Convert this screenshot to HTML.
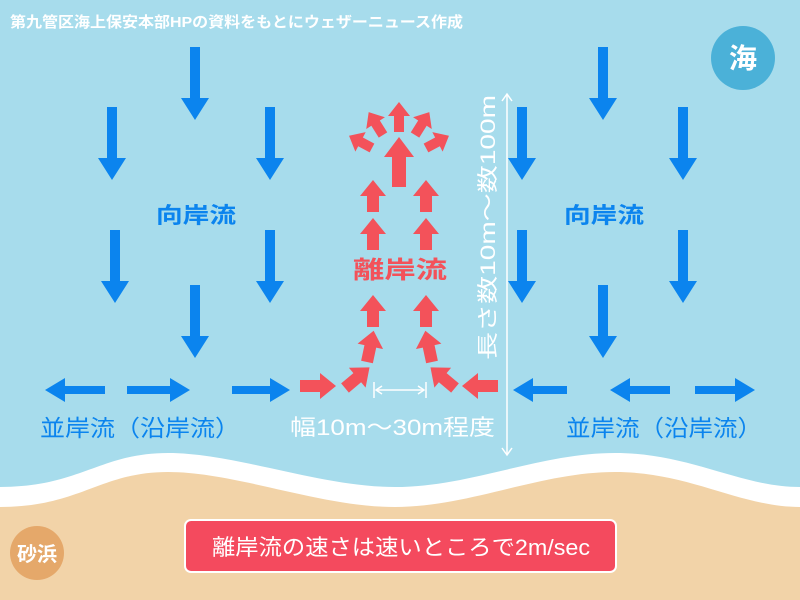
<!DOCTYPE html>
<html><head><meta charset="utf-8"><style>
html,body{margin:0;padding:0;width:800px;height:600px;overflow:hidden;background:#a7dcec}
svg{display:block}
text{font-family:"Liberation Sans","Noto Sans CJK JP",sans-serif}
</style></head><body>
<svg width="800" height="600" viewBox="0 0 800 600" xmlns="http://www.w3.org/2000/svg">
<rect width="800" height="600" fill="#a7dcec"/>
<path d="M0,487 C80,487 100,453 168,453 S320,487 395,487 S540,453 615,453 S740,487 800,487 V600 H0Z" fill="#fff"/>
<path d="M0,507 C80,507 100,472 168,472 S320,507 395,507 S540,472 615,472 S740,507 800,507 V600 H0Z" fill="#f2d3a8"/>

<text x="10" y="27" font-size="15" font-weight="bold" fill="#fff" textLength="453" lengthAdjust="spacingAndGlyphs">第九管区海上保安本部HPの資料をもとにウェザーニュース作成</text>
<circle cx="743" cy="58" r="32" fill="#4bb1d8"/>
<text x="743" y="68" font-size="28" font-weight="bold" fill="#fff" text-anchor="middle">海</text>

<g fill="#0b84ee">
<g transform="translate(195,47) rotate(180)"><polygon points="-5,0 5,0 5,-51 14,-51 0,-73 -14,-51 -5,-51"/></g>
<g transform="translate(112,107) rotate(180)"><polygon points="-5,0 5,0 5,-51 14,-51 0,-73 -14,-51 -5,-51"/></g>
<g transform="translate(270,107) rotate(180)"><polygon points="-5,0 5,0 5,-51 14,-51 0,-73 -14,-51 -5,-51"/></g>
<g transform="translate(115,230) rotate(180)"><polygon points="-5,0 5,0 5,-51 14,-51 0,-73 -14,-51 -5,-51"/></g>
<g transform="translate(270,230) rotate(180)"><polygon points="-5,0 5,0 5,-51 14,-51 0,-73 -14,-51 -5,-51"/></g>
<g transform="translate(195,285) rotate(180)"><polygon points="-5,0 5,0 5,-51 14,-51 0,-73 -14,-51 -5,-51"/></g>
<g transform="translate(603,47) rotate(180)"><polygon points="-5,0 5,0 5,-51 14,-51 0,-73 -14,-51 -5,-51"/></g>
<g transform="translate(522,107) rotate(180)"><polygon points="-5,0 5,0 5,-51 14,-51 0,-73 -14,-51 -5,-51"/></g>
<g transform="translate(683,107) rotate(180)"><polygon points="-5,0 5,0 5,-51 14,-51 0,-73 -14,-51 -5,-51"/></g>
<g transform="translate(522,230) rotate(180)"><polygon points="-5,0 5,0 5,-51 14,-51 0,-73 -14,-51 -5,-51"/></g>
<g transform="translate(683,230) rotate(180)"><polygon points="-5,0 5,0 5,-51 14,-51 0,-73 -14,-51 -5,-51"/></g>
<g transform="translate(603,285) rotate(180)"><polygon points="-5,0 5,0 5,-51 14,-51 0,-73 -14,-51 -5,-51"/></g>
<g transform="translate(105,390) rotate(-90)"><polygon points="-4,0 4,0 4,-40 12,-40 0,-60 -12,-40 -4,-40"/></g>
<g transform="translate(127,390) rotate(90)"><polygon points="-4,0 4,0 4,-43 12,-43 0,-63 -12,-43 -4,-43"/></g>
<g transform="translate(232,390) rotate(90)"><polygon points="-4,0 4,0 4,-38 12,-38 0,-58 -12,-38 -4,-38"/></g>
<g transform="translate(567,390) rotate(-90)"><polygon points="-4,0 4,0 4,-34 12,-34 0,-54 -12,-34 -4,-34"/></g>
<g transform="translate(670,390) rotate(-90)"><polygon points="-4,0 4,0 4,-40 12,-40 0,-60 -12,-40 -4,-40"/></g>
<g transform="translate(695,390) rotate(90)"><polygon points="-4,0 4,0 4,-40 12,-40 0,-60 -12,-40 -4,-40"/></g>
</g>

<g fill="#f3525a">
<g transform="translate(373,212)"><polygon points="-6,0 6,0 6,-16 13,-16 0,-32 -13,-16 -6,-16"/></g>
<g transform="translate(426,212)"><polygon points="-6,0 6,0 6,-16 13,-16 0,-32 -13,-16 -6,-16"/></g>
<g transform="translate(373,250)"><polygon points="-6,0 6,0 6,-16 13,-16 0,-32 -13,-16 -6,-16"/></g>
<g transform="translate(426,250)"><polygon points="-6,0 6,0 6,-16 13,-16 0,-32 -13,-16 -6,-16"/></g>
<g transform="translate(373,327)"><polygon points="-6,0 6,0 6,-16 13,-16 0,-32 -13,-16 -6,-16"/></g>
<g transform="translate(426,327)"><polygon points="-6,0 6,0 6,-16 13,-16 0,-32 -13,-16 -6,-16"/></g>
<g transform="translate(367,362) rotate(12)"><polygon points="-6,0 6,0 6,-16 13,-16 0,-32 -13,-16 -6,-16"/></g>
<g transform="translate(432,362) rotate(-12)"><polygon points="-6,0 6,0 6,-16 13,-16 0,-32 -13,-16 -6,-16"/></g>
<g transform="translate(345,388) rotate(50)"><polygon points="-6,0 6,0 6,-16 13,-16 0,-32 -13,-16 -6,-16"/></g>
<g transform="translate(455,388) rotate(-50)"><polygon points="-6,0 6,0 6,-16 13,-16 0,-32 -13,-16 -6,-16"/></g>
<g transform="translate(300,386) rotate(90)"><polygon points="-6,0 6,0 6,-20 13,-20 0,-36 -13,-20 -6,-20"/></g>
<g transform="translate(498,386) rotate(-90)"><polygon points="-6,0 6,0 6,-20 13,-20 0,-36 -13,-20 -6,-20"/></g>
<g transform="translate(399,187)"><polygon points="-7,0 7,0 7,-30 15,-30 0,-50 -15,-30 -7,-30"/></g>
<g transform="translate(399,132)"><polygon points="-5,0 5,0 5,-16 11,-16 0,-30 -11,-16 -5,-16"/></g>
<g transform="translate(383,135) rotate(-32)"><polygon points="-5,0 5,0 5,-14 11,-14 0,-27 -11,-14 -5,-14"/></g>
<g transform="translate(415,135) rotate(32)"><polygon points="-5,0 5,0 5,-14 11,-14 0,-27 -11,-14 -5,-14"/></g>
<g transform="translate(372,148) rotate(-62)"><polygon points="-5,0 5,0 5,-13 11,-13 0,-26 -11,-13 -5,-13"/></g>
<g transform="translate(426,148) rotate(62)"><polygon points="-5,0 5,0 5,-13 11,-13 0,-26 -11,-13 -5,-13"/></g>
</g>

<g stroke="#fff" stroke-width="1.5" fill="none">
<line x1="507" y1="94" x2="507" y2="455"/>
<polyline points="502,101 507,94 512,101"/>
<polyline points="502,448 507,455 512,448"/>
<line x1="374" y1="382" x2="374" y2="398"/>
<line x1="426" y1="382" x2="426" y2="398"/>
<line x1="376" y1="390" x2="424" y2="390"/>
<polyline points="382,386 376,390 382,394"/>
<polyline points="418,386 424,390 418,394"/>
</g>
<text transform="translate(495,360) rotate(-90)" font-size="21" fill="#fff" textLength="265" lengthAdjust="spacingAndGlyphs">長さ数10m～数100m</text>

<text x="156" y="223" font-size="22" font-weight="bold" fill="#0b84ee" textLength="80" lengthAdjust="spacingAndGlyphs">向岸流</text>
<text x="564" y="223" font-size="22" font-weight="bold" fill="#0b84ee" textLength="80" lengthAdjust="spacingAndGlyphs">向岸流</text>
<text x="353" y="278" font-size="24" font-weight="bold" fill="#f3525a" textLength="94" lengthAdjust="spacingAndGlyphs">離岸流</text>
<text x="40" y="436" font-size="23" fill="#0b84ee" textLength="200" lengthAdjust="spacingAndGlyphs">並岸流（沿岸流）</text>
<text x="566" y="436" font-size="23" fill="#0b84ee" textLength="196" lengthAdjust="spacingAndGlyphs">並岸流（沿岸流）</text>
<text x="290" y="435" font-size="22" fill="#fff" textLength="205" lengthAdjust="spacingAndGlyphs">幅10m～30m程度</text>

<circle cx="37" cy="553" r="27" fill="#e5a86a"/>
<text x="37" y="561" font-size="20" font-weight="bold" fill="#fff" text-anchor="middle">砂浜</text>
<rect x="185" y="520" width="431" height="52" rx="6" fill="#f44a5e" stroke="#fff" stroke-width="2"/>
<text x="212" y="555" font-size="22" fill="#fff" textLength="378" lengthAdjust="spacingAndGlyphs">離岸流の速さは速いところで2m/sec</text>
</svg>
</body></html>
